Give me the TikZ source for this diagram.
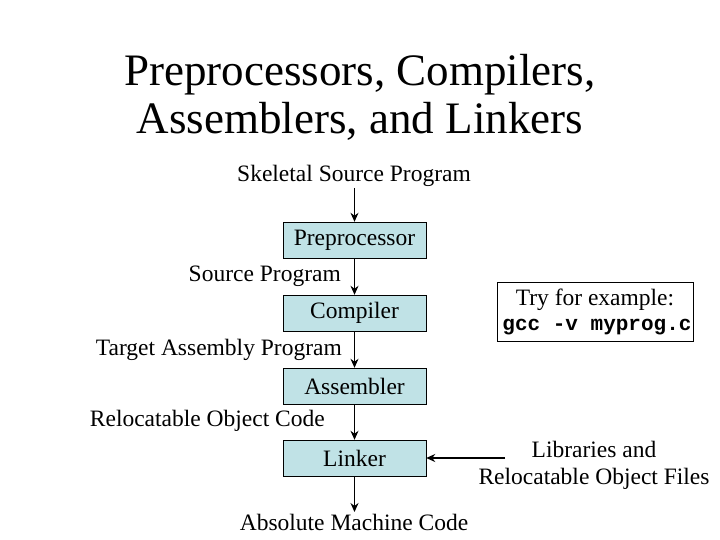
\documentclass[tikz,border=0pt]{standalone}
\usepackage{fontspec}
\usetikzlibrary{arrows.meta}
\setmainfont{Liberation Serif}
\setmonofont{Liberation Mono}
\begin{document}
\begin{tikzpicture}[x=1pt,y=-1pt,
  box/.style={draw=black,fill=boxc,minimum width=143pt,minimum height=36pt,inner sep=0pt,font=\fontsize{23.5}{27}\selectfont},
  lbl/.style={inner sep=0pt,font=\fontsize{23.5}{27}\selectfont},
  arr/.style={draw,line width=1.2pt,-{Stealth[length=9pt,width=8pt]}}]
\definecolor{boxc}{HTML}{C0E2E6}
\useasboundingbox (0,0) rectangle (720,540);
\fill[white] (0,0) rectangle (720,540);
\node[inner sep=0pt,align=center,font=\fontsize{45}{48}\selectfont] (title) at (360,97) {Preprocessors, Compilers,\\Assemblers, and Linkers};
\node[lbl] (skel) at (354,176) {Skeletal Source Program};
\node[box] (pre) at (354.5,240) {Preprocessor};
\node[lbl,anchor=east] (src) at (341,276) {Source Program};
\node[box] (comp) at (354.5,313) {Compiler};
\node[lbl,anchor=east] (tgt) at (342,350) {Target Assembly Program};
\node[box] (asm) at (354.5,386) {Assembler};
\node[lbl,anchor=east] (rel) at (325,421) {Relocatable Object Code};
\node[box] (lnk) at (354.5,458) {Linker};
\node[lbl] (abs) at (354,522) {Absolute Machine Code};
\node[draw,minimum width=196pt,minimum height=59pt,inner sep=0pt] (try) at (595,311.5) {};
\node[lbl] (tryt) at (595,300) {Try for example:};
\node[inner sep=0pt,font=\ttfamily\bfseries\fontsize{21}{24}\selectfont] (gcc) at (597,327) {gcc -v myprog.c};
\node[lbl,align=center] (libs) at (594,465) {Libraries and\\Relocatable Object Files};
\coordinate (libs-w) at (505,458);
\coordinate (s1) at (354.5,188);
\coordinate (e1) at (354.5,512);
\draw[arr] (s1) -- (pre.north);
\draw[arr] (pre.south) -- (comp.north);
\draw[arr] (comp.south) -- (asm.north);
\draw[arr] (asm.south) -- (lnk.north);
\draw[arr] (lnk.south) -- (e1);
\draw[arr,line width=2pt] (libs-w) -- (lnk.east);
\end{tikzpicture}
\end{document}
